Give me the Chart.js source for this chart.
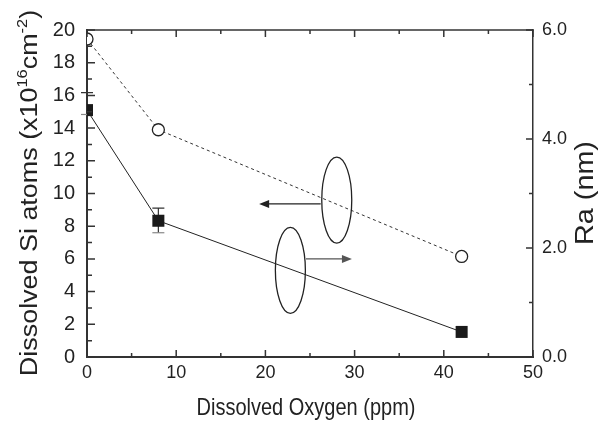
<!DOCTYPE html>
<html>
<head>
<meta charset="utf-8">
<script src="https://cdn.jsdelivr.net/npm/chart.js@4/dist/chart.umd.min.js"></script>
<style>
  html, body { margin: 0; padding: 0; background: #fff; }
  canvas { display: block; }
</style>
</head>
<body>
<canvas id="c" width="604" height="421"></canvas>
<script>
/* --- data -------------------------------------------------------- */
const oxygen     = [0, 8, 42];              // ppm
const siAtoms    = [19.45, 13.9, 6.15];     // x10^16 cm^-2 (left axis, open circles)
const roughness  = [4.53, 2.50, 0.46];      // Ra nm (right axis, filled squares)
const roughErrHi = [4.85, 2.73, null];
const roughErrLo = [4.45, 2.28, null];

const FONT = '"Liberation Sans", Arial, sans-serif';
const INK  = '#222';

/* ellipse + arrow markers, in data units of x / left axis */
const marks = [
  { cx: 28.0, cy: 9.6, from: 26.2,  to: 19.3, ay: 9.36, color: '#222' },
  { cx: 22.8, cy: 5.3, from: 24.55, to: 29.7, ay: 6.0,  color: '#555' }
];

/* rotated / stretched text with superscripts */
function richText(ctx, parts, x, y, size, rot, stretch) {
  ctx.save();
  ctx.translate(x, y);
  ctx.rotate(rot);
  ctx.scale(stretch, 1);
  const w = parts.map(p => {
    ctx.font = (p.sup ? Math.round(size * 0.62) : size) + 'px ' + FONT;
    return ctx.measureText(p.t).width;
  });
  let cur = -w.reduce((a, b) => a + b, 0) / 2;
  ctx.fillStyle = INK;
  ctx.textBaseline = 'alphabetic';
  ctx.textAlign = 'left';
  parts.forEach((p, i) => {
    ctx.font = (p.sup ? Math.round(size * 0.62) : size) + 'px ' + FONT;
    ctx.fillText(p.t, cur, p.sup ? -size * 0.42 : 0);
    cur += w[i];
  });
  ctx.restore();
}

const decor = {
  id: 'decor',
  beforeDatasetsDraw(chart) {
    // error bars on the Ra points
    const { ctx, scales: { x, y2 } } = chart;
    ctx.save();
    ctx.lineWidth = 1.2;
    oxygen.forEach((o, i) => {
      if (roughErrHi[i] == null) return;
      const px = x.getPixelForValue(o);
      const hi = y2.getPixelForValue(roughErrHi[i]);
      const lo = y2.getPixelForValue(roughErrLo[i]);
      ctx.strokeStyle = '#333';
      ctx.beginPath();
      ctx.moveTo(px, hi); ctx.lineTo(px, lo);
      ctx.moveTo(px - 6, hi); ctx.lineTo(px + 6, hi);
      ctx.stroke();
      ctx.strokeStyle = '#888';
      ctx.beginPath();
      ctx.moveTo(px - 6, lo); ctx.lineTo(px + 6, lo);
      ctx.stroke();
    });
    ctx.restore();
  },
  afterDraw(chart) {
    const { ctx, chartArea: a, scales: { x, y, y2 } } = chart;
    ctx.save();
    ctx.strokeStyle = '#333';
    ctx.lineWidth = 1.5;

    // frame top
    ctx.beginPath();
    ctx.moveTo(a.left, a.top); ctx.lineTo(a.right + 0.75, a.top);
    ctx.stroke();

    // inward ticks
    ctx.beginPath();
    for (let v = 0; v <= 50; v += 5) {
      const px = x.getPixelForValue(v), len = v % 10 === 0 ? 7 : 4;
      ctx.moveTo(px, a.bottom); ctx.lineTo(px, a.bottom - len);
      ctx.moveTo(px, a.top);    ctx.lineTo(px, a.top + len);
    }
    for (let v = 0; v <= 20; v++) {
      const py = y.getPixelForValue(v), len = v % 2 === 0 ? 8 : 5;
      ctx.moveTo(a.left, py); ctx.lineTo(a.left + len, py);
    }
    for (let v = 0; v <= 6; v++) {
      const py = y2.getPixelForValue(v), len = v % 2 === 0 ? 7 : 4;
      ctx.moveTo(a.right, py); ctx.lineTo(a.right - len, py);
    }
    ctx.stroke();

    // ellipses and arrows
    marks.forEach(m => {
      const cx = x.getPixelForValue(m.cx), cy = y.getPixelForValue(m.cy);
      ctx.strokeStyle = '#222';
      ctx.lineWidth = 1.3;
      ctx.beginPath();
      ctx.ellipse(cx, cy, 15, 43, 0, 0, Math.PI * 2);
      ctx.stroke();
      const x1 = x.getPixelForValue(m.from), x2 = x.getPixelForValue(m.to);
      const ay = y.getPixelForValue(m.ay), dir = Math.sign(x2 - x1);
      ctx.strokeStyle = m.color;
      ctx.fillStyle = m.color;
      ctx.lineWidth = 1.3;
      ctx.beginPath();
      ctx.moveTo(x1, ay); ctx.lineTo(x2 - dir * 8, ay);
      ctx.stroke();
      ctx.beginPath();
      ctx.moveTo(x2, ay);
      ctx.lineTo(x2 - dir * 10, ay - 4);
      ctx.lineTo(x2 - dir * 10, ay + 4);
      ctx.closePath();
      ctx.fill();
    });
    ctx.restore();

    // axis titles
    ctx.save();
    ctx.translate(0, 415); ctx.scale(1, 1.18); ctx.translate(0, -415);
    richText(ctx, [{ t: 'Dissolved Oxygen (ppm)' }], 306, 415, 20, 0, 1);
    ctx.restore();
    richText(ctx, [
      { t: 'Dissolved Si atoms (x10' }, { t: '16', sup: true },
      { t: 'cm' }, { t: '-2', sup: true }, { t: ')' }
    ], 37, 193, 23, -Math.PI / 2, 1.17);
    richText(ctx, [{ t: 'Ra (nm)' }], 593, 193, 25, -Math.PI / 2, 1.15);
  }
};

new Chart(document.getElementById('c'), {
  type: 'line',
  data: {
    datasets: [
      {
        label: 'Dissolved Si atoms',
        data: oxygen.map((o, i) => ({ x: o, y: siAtoms[i] })),
        yAxisID: 'y',
        borderColor: '#333',
        borderWidth: 1,
        borderDash: [3, 3],
        pointStyle: 'circle',
        pointRadius: 6,
        pointBackgroundColor: '#fff',
        pointBorderColor: '#222',
        pointBorderWidth: 1.3
      },
      {
        label: 'Ra',
        data: oxygen.map((o, i) => ({ x: o, y: roughness[i] })),
        yAxisID: 'y2',
        borderColor: '#222',
        borderWidth: 1,
        pointStyle: 'rect',
        pointRadius: 8.5,
        pointBackgroundColor: '#1a1a1a',
        pointBorderColor: '#1a1a1a',
        pointBorderWidth: 0
      }
    ]
  },
  options: {
    responsive: false,
    animation: false,
    devicePixelRatio: 1,
    layout: { padding: { top: 30, left: 0, right: 0, bottom: 0 } },
    plugins: { legend: { display: false }, tooltip: { enabled: false } },
    scales: {
      x: {
        type: 'linear', min: 0, max: 50,
        ticks: { stepSize: 10, color: INK, font: { family: FONT, size: 18 }, padding: 5 },
        grid: { drawOnChartArea: false, drawTicks: false },
        border: { color: '#333', width: 2 },
        afterFit: s => { s.height = 64; }
      },
      y: {
        position: 'left', min: 0, max: 20,
        ticks: { stepSize: 2, color: INK, font: { family: FONT, size: 20 }, padding: 12 },
        grid: { drawOnChartArea: false, drawTicks: false },
        border: { color: '#333', width: 2 },
        afterFit: s => { s.width = 87; }
      },
      y2: {
        position: 'right', min: 0, max: 6,
        ticks: { stepSize: 2, color: INK, font: { family: FONT, size: 18 }, padding: 9,
                 callback: v => v.toFixed(1) },
        grid: { drawOnChartArea: false, drawTicks: false },
        border: { color: '#333', width: 1.5 },
        afterFit: s => { s.width = 71; }
      }
    }
  },
  plugins: [decor]
});
</script>
</body>
</html>
